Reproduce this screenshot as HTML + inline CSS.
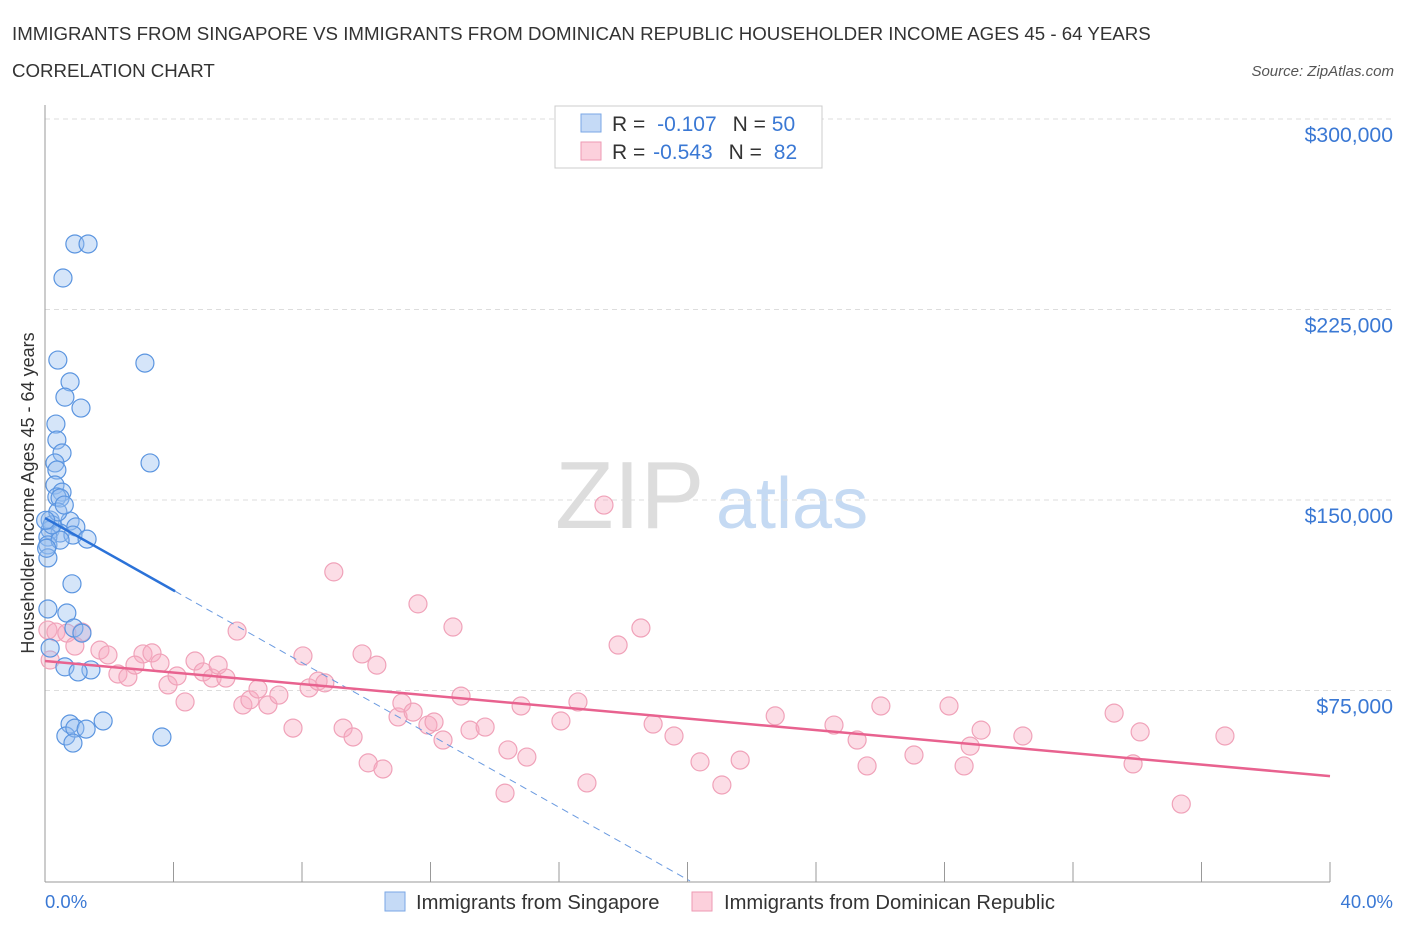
<!DOCTYPE html>
<html><head><meta charset="utf-8"><style>
body{margin:0;background:#fff;font-family:"Liberation Sans",sans-serif;}
svg text{font-family:"Liberation Sans",sans-serif;}
</style></head><body>
<svg id="chart" width="1406" height="930">
<text x="12" y="40" font-size="18.7" fill="#333">IMMIGRANTS FROM SINGAPORE VS IMMIGRANTS FROM DOMINICAN REPUBLIC HOUSEHOLDER INCOME AGES 45 - 64 YEARS</text>
<text x="12" y="77" font-size="18.7" fill="#333">CORRELATION CHART</text>
<text x="1394" y="76" font-size="15" fill="#555" font-style="italic" text-anchor="end">Source: ZipAtlas.com</text>
<text x="555" y="528" font-size="96" fill="#ddd" font-family="Liberation Serif">ZIP</text>
<text x="716" y="528" font-size="72" fill="#c5daf3">atlas</text>
<g id="grid"></g><g id="axes"></g><g id="pts"></g><g id="lines"></g>
<text transform="translate(34,493) rotate(-90)" font-size="18" fill="#333" text-anchor="middle">Householder Income Ages 45 - 64 years</text>
<text x="45" y="908" font-size="18.5" fill="#3a78d4">0.0%</text>
<text x="1393" y="908" font-size="18.5" fill="#3a78d4" text-anchor="end">40.0%</text>
<g>
<rect x="555" y="106" width="267" height="62" fill="#fff" stroke="#ccc"/>
<rect x="581" y="114" width="20" height="18" fill="#c5daf6" stroke="#7aa7e6"/>
<rect x="581" y="142" width="20" height="18" fill="#fcd0dc" stroke="#ee9ab3"/>
<text x="612" y="131" font-size="21" fill="#333">R = <tspan dx="6" fill="#3a78d4">-0.107</tspan><tspan dx="16">N = </tspan><tspan fill="#3a78d4">50</tspan></text>
<text x="612" y="159" font-size="21" fill="#333">R = <tspan dx="2" fill="#3a78d4">-0.543</tspan><tspan dx="16">N = </tspan><tspan dx="6" fill="#3a78d4">82</tspan></text>
</g>
<g>
<rect x="385" y="892" width="20" height="19" fill="#c5daf6" stroke="#7aa7e6"/>
<text x="416" y="909" font-size="20.2" fill="#333">Immigrants from Singapore</text>
<rect x="692" y="892" width="20" height="19" fill="#fcd0dc" stroke="#ee9ab3"/>
<text x="724" y="909" font-size="20.2" fill="#333">Immigrants from Dominican Republic</text>
</g>
</svg>
<script>
const yTicks=[75000,150000,225000,300000];
const yTickLabels=["$75,000","$150,000","$225,000","$300,000"];
const blueX=[0.93,1.34,0.56,0.40,3.11,0.78,0.62,1.12,0.34,0.37,0.53,3.27,0.31,0.37,0.31,0.53,0.37,0.47,0.16,0.78,0.96,0.16,0.47,0.09,0.87,1.31,0.09,0.09,0.84,0.09,0.68,0.90,1.15,0.16,0.62,1.43,1.03,1.81,0.78,0.65,0.93,1.28,0.87,3.64,0.47,0.22,0.40,0.02,0.05,0.6];
const blueY=[250.8,250.8,237.4,205.1,203.9,196.5,190.5,186.2,179.9,173.6,168.5,164.6,164.6,161.8,155.9,153.1,151.2,150.8,142.1,141.7,139.4,138.2,137.0,135.4,136.2,134.6,132.3,127.2,117.0,107.1,105.5,99.6,97.6,91.7,84.3,83.1,82.3,63.0,61.8,57.1,60.2,59.8,54.3,56.7,134.2,140.2,145.3,142,131,148];
const pinkX=[0.09,0.34,0.68,1.15,0.93,1.71,1.96,2.27,2.58,3.05,3.33,2.80,3.58,3.83,4.11,4.36,4.67,4.92,5.20,5.39,5.63,5.98,6.16,6.38,6.63,6.94,7.28,7.72,8.03,8.22,8.50,8.71,8.99,9.28,9.59,9.87,10.06,10.33,10.52,10.99,11.11,11.46,11.61,11.92,12.11,12.39,12.70,12.95,13.23,13.70,14.32,14.41,14.82,15.00,16.06,16.59,16.87,17.40,17.84,18.55,18.93,19.58,20.39,21.07,21.64,22.73,24.56,25.28,25.59,26.02,27.05,28.14,28.61,28.80,29.14,30.44,33.28,33.87,34.09,35.37,36.73,0.16];
const pinkY=[98.8,98.0,97.6,98.0,92.5,90.9,89.0,81.5,80.3,89.4,89.8,85.0,85.8,77.2,80.7,70.5,86.6,82.3,79.9,85.0,79.9,98.4,69.3,71.3,75.6,69.3,73.2,60.2,88.6,76.0,78.7,78.0,121.7,60.2,56.7,89.4,46.5,85.0,44.1,64.6,70.1,66.5,109.1,61.4,62.6,55.5,100.0,72.8,59.4,60.6,34.6,51.6,68.9,48.8,63.0,70.5,38.6,148.0,92.9,99.6,61.8,57.1,46.9,37.8,47.6,65.0,61.4,55.5,45.3,68.9,49.6,68.9,45.3,53.1,59.4,57.1,66.1,46.1,58.7,30.3,57.1,87.0];
const blueTrend=[142.9,-7.117];
const pinkTrend=[86.6,-1.1325];
const NS="http://www.w3.org/2000/svg";
function X(p){return 45+p/40*1285;}
function Y(k){return 881-k*1000/75000*190.5;}
function mk(tag,attrs,parent){const e=document.createElementNS(NS,tag);for(const k in attrs)e.setAttribute(k,attrs[k]);document.getElementById(parent).appendChild(e);return e;}
yTicks.forEach((v,i)=>{
 const g=mk('line',{x1:45,x2:1395,y1:Y(v/1000),y2:Y(v/1000),stroke:'#ddd','stroke-dasharray':'5,4'},'grid');
 
 
 const t=mk('text',{x:1393,y:Y(v/1000)+23,'font-size':21.2,fill:'#3a78d4','text-anchor':'end'},'grid');
 t.textContent=yTickLabels[i];
 
 
});
const ya=mk('line',{x1:45,x2:45,y1:105,y2:882,stroke:'#999'},'axes');


const xa=mk('line',{x1:45,x2:1330,y1:882,y2:882,stroke:'#999'},'axes');


for(let i=0;i<=10;i++){
 const t=mk('line',{x1:X(i*4),x2:X(i*4),y1:862,y2:882,stroke:'#999'},'axes');
 
 
}
pinkX.forEach((x,i)=>{
 const c=mk('circle',{cx:X(x),cy:Y(pinkY[i]),r:9,fill:'rgba(248,170,192,0.4)',stroke:'#f0a2b9','stroke-width':1.2},'pts');
 
 
});
blueX.forEach((x,i)=>{
 const c=mk('circle',{cx:X(x),cy:Y(blueY[i]),r:9,fill:'rgba(150,190,240,0.4)',stroke:'#5b95e0','stroke-width':1.2},'pts');
 
 
});
const bx0=0,bx1=4.05,bx2=-blueTrend[0]/blueTrend[1];
const bl=mk('line',{x1:X(bx0),y1:Y(blueTrend[0]),x2:X(bx1),y2:Y(blueTrend[0]+blueTrend[1]*bx1),stroke:'#2b72d8','stroke-width':2.5},'lines');


const bd=mk('line',{x1:X(bx1),y1:Y(blueTrend[0]+blueTrend[1]*bx1),x2:X(bx2),y2:Y(0),stroke:'#6a9ae0','stroke-width':1,'stroke-dasharray':'7,5'},'lines');


const pl=mk('line',{x1:X(0),y1:Y(pinkTrend[0]),x2:X(40),y2:Y(pinkTrend[0]+pinkTrend[1]*40),stroke:'#e8628f','stroke-width':2.5},'lines');


</script>
</body></html>
